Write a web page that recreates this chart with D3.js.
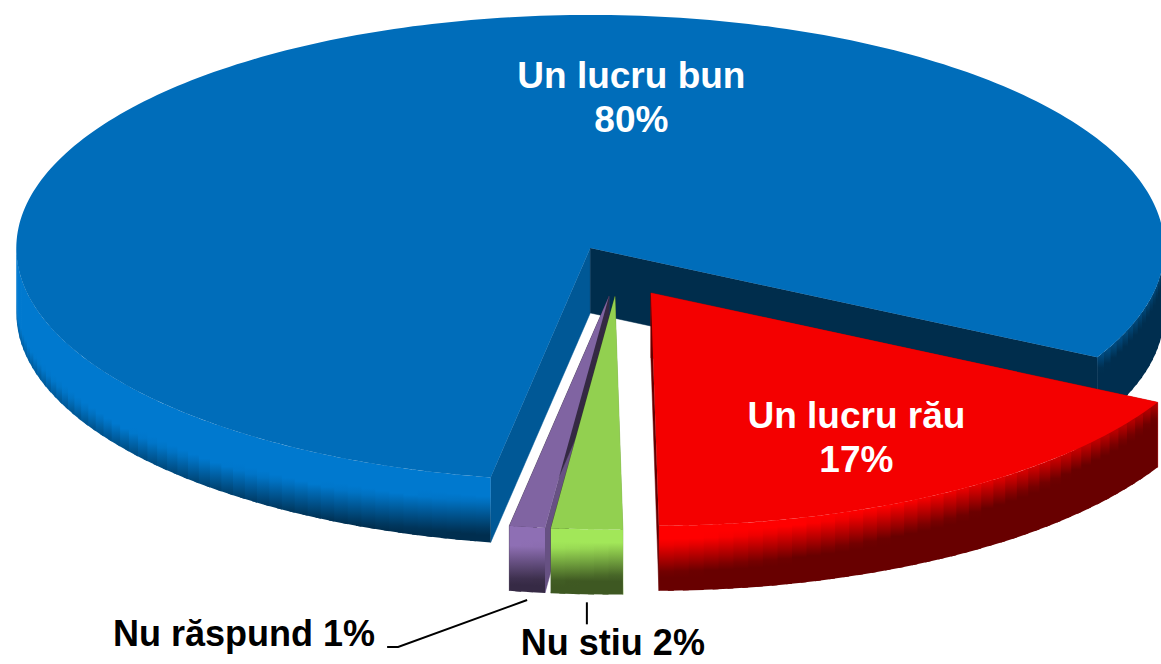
<!DOCTYPE html>
<html>
<head>
<meta charset="utf-8">
<script src="https://cdn.jsdelivr.net/npm/d3@7"></script>
<style>
  body { margin: 0; background: #fff; }
  text { font-family: "Liberation Sans", Arial, sans-serif; font-weight: bold; }
</style>
</head>
<body>
<div id="chart"></div>
<script>
const categories = ["Un lucru bun", "Un lucru rău", "Nu stiu", "Nu răspund"];
const values = [80, 17, 2, 1];
const pctLabels = ["80%", "17%", "2%", "1%"];
const colors = ["#006DBA", "#F40000", "#92D050", "#8064A2"];

const w = 1161;
const h = 664;
const cx = 618, cy = 271;   // pie centre (top face)
const rx = 574, ry = 233;   // ellipse radii
const depth = 65;
const explode = 0.11;
const rad = Math.PI / 180;

const svg = d3.select("#chart")
  .append("svg")
  .attr("width", w)
  .attr("height", h);
const defs = svg.append("defs");

const pie = d3.pie()
  .sort(null)
  .value(d => d)
  .startAngle(190 * rad)
  .endAngle(550 * rad);

const arcs = pie(values);

// offset of an exploded slice
arcs.forEach(a => {
  const mid = (a.startAngle + a.endAngle) / 2;
  a.ox = explode * rx * Math.sin(mid);
  a.oy = -explode * ry * Math.cos(mid);
});

const pt = (a, t, r, z) => [
  cx + a.ox + r * rx * Math.sin(t),
  cy + a.oy - r * ry * Math.cos(t) + z
];

const line = d3.line();

function wallColor(base, t, k) {
  const s = (1 + Math.sin(t)) / 2;
  const v = Math.max(0, Math.min(1, (k - 0.2) * 1.8 + (s - 0.5) * 2.2));
  return d3.interpolateRgb(d3.rgb(base).brighter(0.3), d3.rgb(base).darker(2.4))(v);
}

let gid = 0;
function drawSlice(a, i) {
  const g = svg.append("g");
  const base = colors[i];
  const a0 = a.startAngle, a1 = a.endAngle;

  // radial cut faces
  [[a0, d3.rgb(base).darker(0.6)], [a1, d3.rgb(base).darker(2.5)]].forEach(([t, c]) => {
    g.append("path")
      .attr("d", line([pt(a, t, 0, 0), pt(a, t, 1, 0), pt(a, t, 1, depth), pt(a, t, 0, depth)]) + "Z")
      .attr("fill", c)
      .attr("stroke", c)
      .attr("stroke-width", 0.5);
  });

  // outer wall, front facing parts only, each strip with its own vertical gradient
  const step = 1.5 * rad;
  const n = Math.ceil((a1 - a0) / step);
  for (let j = 0; j < n; j++) {
    const t0 = a0 + (a1 - a0) * j / n;
    const t1 = Math.min(a1, a0 + (a1 - a0) * (j + 1) / n + 0.6 * rad);
    const tm = (t0 + t1) / 2;
    if (Math.cos(tm) > 0.03) continue;
    const id = "wg" + (gid++);
    const top = pt(a, tm, 1, 0), bot = pt(a, tm, 1, depth);
    const grad = defs.append("linearGradient")
      .attr("id", id)
      .attr("gradientUnits", "userSpaceOnUse")
      .attr("x1", top[0]).attr("y1", top[1])
      .attr("x2", bot[0]).attr("y2", bot[1]);
    d3.range(0, 1.0001, 0.1).forEach(k => {
      grad.append("stop").attr("offset", k).attr("stop-color", wallColor(base, tm, k));
    });
    g.append("path")
      .attr("d", line([pt(a, t0, 1, 0), pt(a, t1, 1, 0), pt(a, t1, 1, depth), pt(a, t0, 1, depth)]) + "Z")
      .attr("fill", `url(#${id})`);
  }

  // top face
  const rim = d3.range(0, 1.0001, 1 / Math.max(8, Math.ceil((a1 - a0) / rad)))
    .map(f => pt(a, a0 + (a1 - a0) * f, 1, 0));
  g.append("path")
    .attr("d", line([pt(a, a0, 0, 0)].concat(rim)) + "Z")
    .attr("fill", base);
}

// back slice first, then the front ones
[0, 1, 3, 2].forEach(i => drawSlice(arcs[i], i));

// labels inside the slices
const insideLabels = [
  { i: 0, angle: 6.3, r: 0.652 },
  { i: 1, angle: 150, r: 0.716 }
];
insideLabels.forEach(l => {
  const p = pt(arcs[l.i], l.angle * rad, l.r, 0);
  const t = svg.append("text")
    .attr("text-anchor", "middle")
    .attr("fill", "#fff")
    .style("font-size", "37px");
  t.append("tspan").attr("x", p[0]).attr("y", p[1] - 9).text(categories[l.i]);
  t.append("tspan").attr("x", p[0]).attr("y", p[1] + 35).text(pctLabels[l.i]);
});

// labels outside with leader lines
const outsideLabels = [
  { i: 3, elbow: [-129, 47], tail: -11, tx: -23, ty: -1, anchor: "end" },
  { i: 2, elbow: [0, 22], tail: 0, tx: 26, ty: 31, anchor: "middle" }
];
outsideLabels.forEach(l => {
  const a = arcs[l.i];
  const mid = (a.startAngle + a.endAngle) / 2;
  const s = pt(a, mid, 1, depth + 8);
  const e = [s[0] + l.elbow[0], s[1] + l.elbow[1]];
  const pts = [s, e];
  if (l.tail) pts.push([e[0] + l.tail, e[1]]);
  svg.append("path")
    .attr("d", line(pts))
    .attr("fill", "none")
    .attr("stroke", "#000")
    .attr("stroke-width", 2);
  svg.append("text")
    .attr("x", e[0] + l.tx)
    .attr("y", e[1] + l.ty)
    .attr("text-anchor", l.anchor)
    .attr("fill", "#000")
    .style("font-size", "36px")
    .text(categories[l.i] + " " + pctLabels[l.i]);
});
</script>
</body>
</html>
